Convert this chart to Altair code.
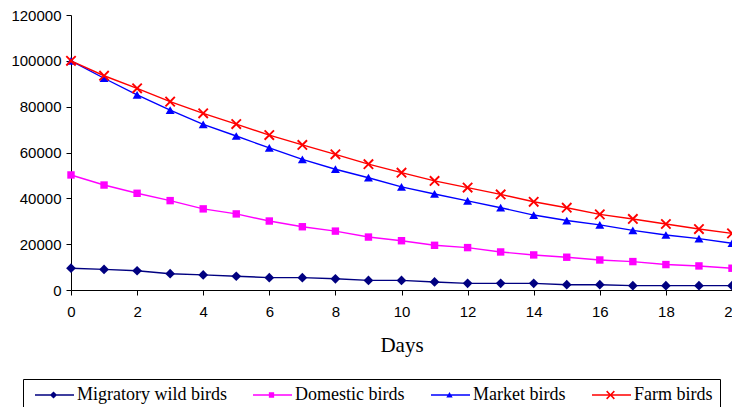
import altair as alt
import pandas as pd

days = list(range(0, 21))
series_names = ["Migratory wild birds", "Domestic birds", "Market birds", "Farm birds"]
migratory = [9500, 9000, 8400, 7100, 6600, 6000, 5400, 5400, 4900, 4200, 4200,
             3500, 2900, 2900, 2900, 2300, 2300, 1900, 1900, 1900, 1900]
domestic = [50200, 45800, 42200, 39000, 35400, 33200, 30100, 27600, 25700, 23100, 21500,
            19500, 18500, 16600, 15300, 14300, 13100, 12400, 11100, 10500, 9500]
market = [100000, 92400, 85100, 78500, 72300, 67200, 62000, 57000, 52700, 49000, 45000,
          41900, 38900, 35900, 32700, 30300, 28400, 26000, 24000, 22400, 20400]
farm = [100000, 93500, 88000, 82200, 77100, 72400, 67600, 63300, 59200, 54900, 51200,
        47600, 44700, 41700, 38500, 35900, 33000, 31000, 28800, 26600, 24700]
y_ticks = [0, 20000, 40000, 60000, 80000, 100000, 120000]
x_ticks = list(range(0, 21, 2))

colors = ["#000080", "#FF00FF", "#0000FF", "#FF0000"]


def fmt(v):
    return ("%.4f" % v).rstrip("0").rstrip(".")


def path(points):
    return "M" + "L".join(fmt(x) + "," + fmt(y) for x, y in points) + "Z"


X_SHAPE = [(-1, -0.75), (-0.75, -1), (0, -0.25), (0.75, -1), (1, -0.75), (0.25, 0),
           (1, 0.75), (0.75, 1), (0, 0.25), (-0.75, 1), (-1, 0.75), (-0.25, 0)]
x_path = path(X_SHAPE)
markers = ["diamond", "square", "triangle-up", x_path]
marker_sizes = [95, 55, 80, 115]

# legend symbols: a line with the marker on it (units of 8 px, centre 8 px from entry start)
lx0, lx1, lw, mx = -0.5, 4.375, 0.09, 1.8125
line_part = path([(lx0, -lw), (lx1, -lw), (lx1, lw), (lx0, lw)])
leg_marker_pts = [
    [(0, -0.45), (0.45, 0), (0, 0.45), (-0.45, 0)],
    [(-0.33, -0.33), (0.33, -0.33), (0.33, 0.33), (-0.33, 0.33)],
    [(0, -0.38), (0.4, 0.3), (-0.4, 0.3)],
    [(x * 0.55, y * 0.55) for x, y in X_SHAPE],
]
legend_shapes = [line_part + " " + path([(x + mx, y) for x, y in pts]) for pts in leg_marker_pts]

all_values = [migratory, domestic, market, farm]

x_enc = alt.X("day:Q", scale=alt.Scale(domain=[0, 20], nice=False, zero=False),
              axis=alt.Axis(values=x_ticks, title="Days", format="d", grid=False,
                            labelFlush=False, labelPadding=9,
                            titleFont="Liberation Serif", titleFontSize=21,
                            titleFontWeight="normal", titlePadding=15))
y_enc = alt.Y("value:Q", scale=alt.Scale(domain=[0, 120000], nice=False),
              axis=alt.Axis(values=y_ticks, title=None, format="d", grid=False,
                            labelFlush=False, labelPadding=5))

layers = []
for name, vals, col, mk, ms in zip(series_names, all_values, colors, markers, marker_sizes):
    df = pd.DataFrame({"day": days, "value": vals, "series": name})
    base = alt.Chart(df)
    layers.append(base.mark_line(color=col, strokeWidth=1.4).encode(x=x_enc, y=y_enc))
    layers.append(base.mark_point(filled=True, color=col, shape=mk, size=ms, opacity=1,
                                  strokeWidth=0).encode(x=x_enc, y=y_enc))

leg_props = dict(orient="none", legendX=-48, legendY=364,
                 direction="horizontal", columns=4, title=None,
                 strokeColor="black", padding=7,
                 labelFont="Liberation Serif", labelFontSize=18,
                 labelColor="black", labelOffset=29,
                 columnPadding=21, symbolSize=256,
                 symbolStrokeWidth=0)

leg_df = pd.DataFrame({"day": [0] * 4, "value": [-500000] * 4, "series": series_names})
legend_layer = alt.Chart(leg_df).mark_point(filled=True, clip=True, size=256, opacity=1,
                                            strokeWidth=0).encode(
    x=x_enc, y=y_enc,
    color=alt.Color("series:N", scale=alt.Scale(domain=series_names, range=colors),
                    legend=alt.Legend(**leg_props)),
    shape=alt.Shape("series:N", scale=alt.Scale(domain=series_names, range=legend_shapes),
                    legend=alt.Legend(**leg_props)),
)

chart = alt.layer(*layers, legend_layer).properties(
    width=661, height=275,
    padding={"left": 71, "top": 15, "right": 0, "bottom": 117},
    autosize=alt.AutoSizeParams(type="none"),
    background="white",
).configure_view(stroke=None).configure_axis(
    domainColor="black", tickColor="black", labelColor="black", titleColor="black",
    labelFont="Liberation Sans", labelFontSize=15, tickSize=5,
    domainWidth=1, tickWidth=1,
)

chart.save("out.html", embed_options={"renderer": "svg", "actions": False})
